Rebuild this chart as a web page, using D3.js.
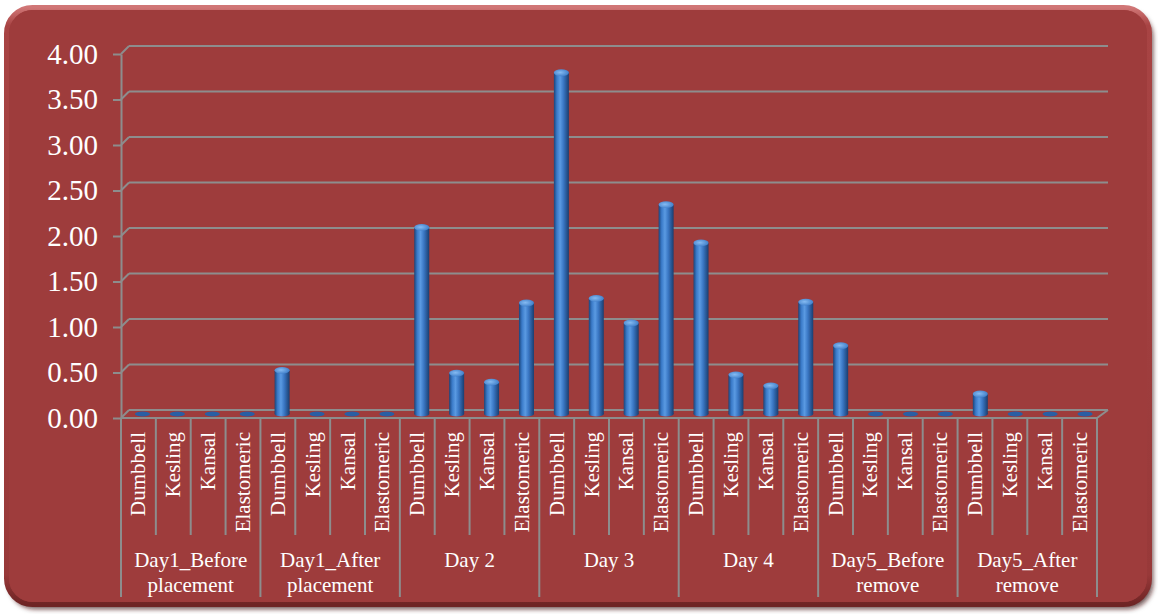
<!DOCTYPE html>
<html>
<head>
<meta charset="utf-8">
<script src="https://cdn.jsdelivr.net/npm/d3@7"></script>
<style>
  html, body { margin: 0; padding: 0; background: #ffffff; }
  svg { display: block; }
  text { font-family: "Liberation Serif", "Times New Roman", serif; fill: #ffffff; }
</style>
</head>
<body>
<svg id="chart" width="1158" height="614"></svg>
<script>
// Stages of the measurement and the four retractor types
const groupLabels = [
  ["Day1_Before", "placement"],
  ["Day1_After", "placement"],
  ["Day 2"],
  ["Day 3"],
  ["Day 4"],
  ["Day5_Before", "remove"],
  ["Day5_After", "remove"]
];
const methods = ["Dumbbell", "Kesling", "Kansal", "Elastomeric"];

// Values for each method, one per stage
const dumbbell    = [0, 0.48, 2.05, 3.75, 1.88, 0.75, 0.22];
const kesling     = [0, 0,    0.45, 1.27, 0.43, 0,    0];
const kansal      = [0, 0,    0.35, 1.00, 0.31, 0,    0];
const elastomeric = [0, 0,    1.22, 2.30, 1.23, 0,    0];

const yTicks = [0, 0.5, 1, 1.5, 2, 2.5, 3, 3.5, 4];

const seriesByMethod = [dumbbell, kesling, kansal, elastomeric];
const rows = [];
groupLabels.forEach((g, gi) => {
  methods.forEach((m, mi) => {
    rows.push({ key: gi * methods.length + mi, group: gi, method: m, value: seriesByMethod[mi][gi] });
  });
});

const svg = d3.select("#chart");
const defs = svg.append("defs");

// Frame shadow
const sh = defs.append("filter").attr("id", "frameShadow")
  .attr("x", "-5%").attr("y", "-5%").attr("width", "110%").attr("height", "112%");
sh.append("feDropShadow").attr("dx", 3).attr("dy", 4).attr("stdDeviation", 2.5)
  .attr("flood-color", "#3a1010").attr("flood-opacity", 0.75);

// Frame bevel: lighter rim on top, darker towards the bottom
const rim = defs.append("linearGradient").attr("id", "rim").attr("x1", 0).attr("y1", 0).attr("x2", 0).attr("y2", 1);
rim.append("stop").attr("offset", "0%").attr("stop-color", "#d07676");
rim.append("stop").attr("offset", "3%").attr("stop-color", "#a84444");
rim.append("stop").attr("offset", "95%").attr("stop-color", "#983939");
rim.append("stop").attr("offset", "100%").attr("stop-color", "#6e2424");

// Cylinder body shading
const body = defs.append("linearGradient").attr("id", "cylBody").attr("x1", 0).attr("y1", 0).attr("x2", 1).attr("y2", 0);
[["0%", "#1b4479"], ["20%", "#3a7ac8"], ["42%", "#5a9ae2"], ["64%", "#3a77c4"], ["100%", "#1a3e70"]]
  .forEach(([o, c]) => body.append("stop").attr("offset", o).attr("stop-color", c));

const cap = defs.append("radialGradient").attr("id", "cylCap").attr("cx", "42%").attr("cy", "45%").attr("r", "60%");
cap.append("stop").attr("offset", "0%").attr("stop-color", "#86bbf2");
cap.append("stop").attr("offset", "100%").attr("stop-color", "#3f7ec9");

// Background panel
svg.append("rect")
  .attr("x", 6).attr("y", 7).attr("width", 1144).attr("height", 598)
  .attr("rx", 26).attr("ry", 26)
  .attr("fill", "#9e3c3c")
  .attr("filter", "url(#frameShadow)");
svg.append("rect")
  .attr("x", 6.5).attr("y", 7.5).attr("width", 1143).attr("height", 597)
  .attr("rx", 26).attr("ry", 26)
  .attr("fill", "none")
  .attr("stroke", "url(#rim)").attr("stroke-width", 5);
svg.append("rect")
  .attr("x", 9).attr("y", 10).attr("width", 1138).attr("height", 592)
  .attr("rx", 24).attr("ry", 24)
  .attr("fill", "#9e3c3c");

// Scales: front edge, back wall and the bar depth in between
const keys = rows.map(d => d.key);
const xFront = d3.scaleBand().domain(keys).range([121, 1097]);
const xBack  = d3.scaleBand().domain(keys).range([129, 1108]);
const xMid   = d3.scaleBand().domain(keys).range([125, 1102.5]);
const yFront = d3.scaleLinear().domain([0, 4]).range([418, 54]);
const yBack  = d3.scaleLinear().domain([0, 4]).range([410, 46]);
const yMid   = d3.scaleLinear().domain([0, 4]).range([414, 50]);

const gridColor = "#8d8d8d";

// Back-wall gridlines with the short slanted join to the axis
const grid = svg.append("g");
yTicks.forEach(t => {
  grid.append("line")
    .attr("x1", xBack.range()[0]).attr("x2", xBack.range()[1])
    .attr("y1", yBack(t)).attr("y2", yBack(t))
    .attr("stroke", gridColor).attr("stroke-width", 2);
  grid.append("line")
    .attr("x1", xFront.range()[0]).attr("y1", yFront(t))
    .attr("x2", xBack.range()[0]).attr("y2", yBack(t))
    .attr("stroke", gridColor).attr("stroke-width", 2);
});

// Floor outline
svg.append("path")
  .attr("d", d3.line()([
    [xFront.range()[0], yFront(0)],
    [xFront.range()[1], yFront(0)],
    [xBack.range()[1], yBack(0)]
  ]))
  .attr("fill", "none").attr("stroke", gridColor).attr("stroke-width", 2);

// Value axis
const yAxis = d3.axisLeft(yFront)
  .tickValues(yTicks)
  .tickFormat(d3.format(".2f"))
  .tickSize(8)
  .tickSizeOuter(0)
  .tickPadding(15);
const ya = svg.append("g").attr("transform", `translate(${xFront.range()[0]},0)`).call(yAxis);
ya.select(".domain").attr("stroke", gridColor).attr("stroke-width", 2);
ya.selectAll(".tick line").attr("stroke", gridColor).attr("stroke-width", 2);
ya.selectAll(".tick text")
  .attr("font-family", "'Liberation Serif', 'Times New Roman', serif")
  .attr("font-size", 29).attr("fill", "#ffffff");

// Cylinders
const bw = 15, ry = 2.6;
const bars = svg.append("g").selectAll("g").data(rows).join("g");
bars.each(function (d) {
  const g = d3.select(this);
  const cx = xMid(d.key) + xMid.bandwidth() / 2;
  const yb = yMid(0), yt = yMid(d.value);
  if (d.value <= 0) {
    g.append("ellipse").attr("cx", cx).attr("cy", yb).attr("rx", bw / 2).attr("ry", ry)
      .attr("fill", "#2a5ea3");
    return;
  }
  g.append("ellipse").attr("cx", cx).attr("cy", yb).attr("rx", bw / 2).attr("ry", ry)
    .attr("fill", "url(#cylBody)");
  g.append("rect").attr("x", cx - bw / 2).attr("y", yt).attr("width", bw).attr("height", yb - yt)
    .attr("fill", "url(#cylBody)");
  g.append("ellipse").attr("cx", cx).attr("cy", yt).attr("rx", bw / 2).attr("ry", ry + 0.8)
    .attr("fill", "url(#cylCap)");
});

// Category axis: method labels, separators and stage labels
const cat = svg.append("g");
const y0 = yFront(0);
keys.forEach(k => {
  const x = xFront(k);
  const isGroupStart = k % methods.length === 0;
  cat.append("line").attr("x1", x).attr("x2", x)
    .attr("y1", y0).attr("y2", isGroupStart ? 597 : 535)
    .attr("stroke", gridColor).attr("stroke-width", 2);
});
cat.append("line").attr("x1", xFront.range()[1]).attr("x2", xFront.range()[1])
  .attr("y1", y0).attr("y2", 597).attr("stroke", gridColor).attr("stroke-width", 2);

cat.selectAll("text.method").data(rows).join("text")
  .attr("class", "method")
  .attr("transform", d => `translate(${xFront(d.key) + xFront.bandwidth() / 2 + 7},432) rotate(-90)`)
  .attr("text-anchor", "end")
  .attr("font-size", 21)
  .text(d => d.method);

groupLabels.forEach((lines, gi) => {
  const xs = xFront(gi * methods.length);
  const xe = xFront(gi * methods.length + methods.length - 1) + xFront.bandwidth();
  const t = cat.append("text")
    .attr("x", (xs + xe) / 2)
    .attr("y", 567)
    .attr("text-anchor", "middle")
    .attr("font-size", 21);
  lines.forEach((l, li) => {
    t.append("tspan").attr("x", (xs + xe) / 2).attr("dy", li === 0 ? 0 : 25).text(l);
  });
});
</script>
</body>
</html>
